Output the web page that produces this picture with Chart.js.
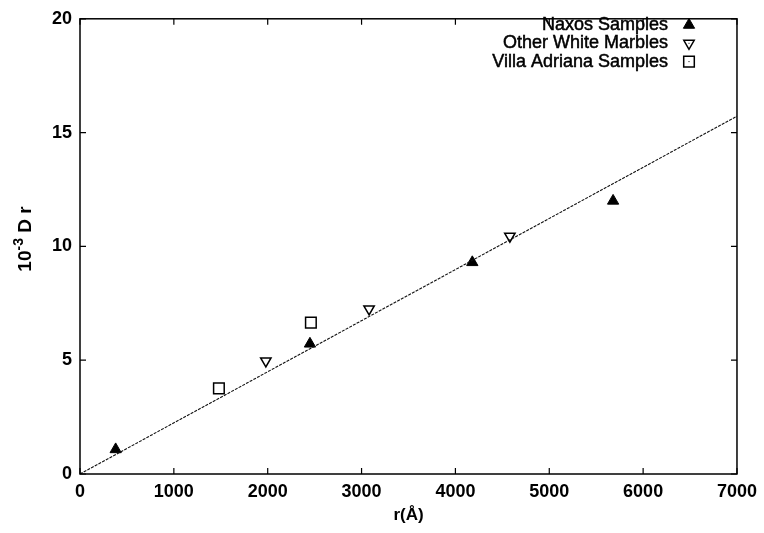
<!DOCTYPE html>
<html>
<head>
<meta charset="utf-8">
<script src="https://cdn.jsdelivr.net/npm/chart.js@4/dist/chart.umd.min.js"></script>
<style>
  html, body { margin: 0; padding: 0; background: #fff; }
  #wrap { width: 764px; height: 533px; }
</style>
</head>
<body>
<div id="wrap"><canvas id="chart" width="764" height="533"></canvas></div>
<script>
// data (r in Å, 10^-3 D r)
const naxosR = [380, 2450, 4180, 5680];
const naxosD = [1.08, 5.72, 9.3, 12.0];
const otherR = [1980, 3080, 4580];
const otherD = [4.97, 7.25, 10.45];
const villaR = [1480, 2460];
const villaD = [3.76, 6.65];
const fitR = [0, 7000];
const fitD = [0, 15.72];
const xTicks = [0, 1000, 2000, 3000, 4000, 5000, 6000, 7000];
const yTicks = [0, 5, 10, 15, 20];

const pts = (xs, ys) => xs.map((x, i) => ({ x, y: ys[i] }));

const FONT = "'Liberation Sans', Arial, Helvetica, sans-serif";

// frame + inward tick marks on all four sides
const framePlugin = {
  id: "frame",
  afterDraw(chart) {
    const { ctx, chartArea: a, scales } = chart;
    ctx.save();
    ctx.strokeStyle = "#000";
    ctx.lineWidth = 1.5;
    ctx.strokeRect(a.left, a.top, a.right - a.left, a.bottom - a.top);
    ctx.lineWidth = 1.2;
    const len = 6;
    xTicks.forEach((v) => {
      const px = scales.x.getPixelForValue(v);
      ctx.beginPath();
      ctx.moveTo(px, a.bottom); ctx.lineTo(px, a.bottom - len);
      ctx.moveTo(px, a.top); ctx.lineTo(px, a.top + len);
      ctx.stroke();
    });
    yTicks.forEach((v) => {
      const py = scales.y.getPixelForValue(v);
      ctx.beginPath();
      ctx.moveTo(a.left, py); ctx.lineTo(a.left + len, py);
      ctx.moveTo(a.right, py); ctx.lineTo(a.right - len, py);
      ctx.stroke();
    });
    ctx.restore();
  }
};

// y title with a real superscript: 10^-3 D r
const yTitlePlugin = {
  id: "yTitle",
  afterDraw(chart) {
    const { ctx } = chart;
    const big = "bold 19px " + FONT;
    const small = "bold 14px " + FONT;
    ctx.save();
    ctx.fillStyle = "#000";
    ctx.font = big;
    const w1 = ctx.measureText("10").width;
    const w3 = ctx.measureText(" D r").width;
    ctx.font = small;
    const w2 = ctx.measureText("-3").width;
    const total = w1 + w2 + w3;
    ctx.translate(31, 239);
    ctx.rotate(-Math.PI / 2);
    ctx.textBaseline = "alphabetic";
    ctx.textAlign = "left";
    let x = -total / 2;
    ctx.font = big;
    ctx.fillText("10", x, 0);
    x += w1;
    ctx.font = small;
    ctx.fillText("-3", x, -8);
    x += w2;
    ctx.font = big;
    ctx.fillText(" D r", x, 0);
    ctx.restore();
  }
};

// legend in the top-right: text right-aligned, marker to the right
const legendPlugin = {
  id: "sideLegend",
  afterDraw(chart) {
    const { ctx } = chart;
    const items = chart.data.datasets.filter((d) => d.inLegend);
    ctx.save();
    ctx.font = "18px " + FONT;
    ctx.textAlign = "right";
    ctx.textBaseline = "middle";
    items.forEach((d, i) => {
      const y = 25 + i * 18.3;
      ctx.fillStyle = "#000";
      ctx.strokeStyle = "#000";
      ctx.lineWidth = 0.5;
      ctx.fillText(d.label, 668, y);
      ctx.strokeText(d.label, 668, y);
      const opts = {
        pointStyle: d.pointStyle,
        rotation: d.rotation || 0,
        radius: d.pointRadius,
        borderWidth: d.borderWidth
      };
      ctx.fillStyle = d.backgroundColor;
      ctx.lineWidth = d.borderWidth;
      Chart.helpers.drawPoint(ctx, opts, 689, y);
      if (d.centerDot) {
        ctx.fillStyle = "#000";
        ctx.fillRect(688.5, y - 0.5, 1, 1);
      }
    });
    ctx.restore();
  }
};

new Chart(document.getElementById("chart"), {
  type: "scatter",
  data: {
    datasets: [
      {
        type: "line",
        label: "fit",
        data: pts(fitR, fitD),
        borderColor: "#111",
        borderWidth: 1.1,
        borderDash: [3, 1.2],
        pointRadius: 0,
        fill: false
      },
      {
        label: "Naxos Samples",
        inLegend: true,
        data: pts(naxosR, naxosD),
        pointStyle: "triangle",
        pointRadius: 6.5,
        borderWidth: 1,
        borderColor: "#000",
        backgroundColor: "#000"
      },
      {
        label: "Other White Marbles",
        inLegend: true,
        centerDot: true,
        data: pts(otherR, otherD),
        pointStyle: "triangle",
        rotation: 180,
        pointRotation: 180,
        pointRadius: 6,
        borderWidth: 1.5,
        borderColor: "#000",
        backgroundColor: "#fff"
      },
      {
        label: "Villa Adriana Samples",
        inLegend: true,
        centerDot: true,
        data: pts(villaR, villaD),
        pointStyle: "rect",
        pointRadius: 7.5,
        borderWidth: 1.5,
        borderColor: "#000",
        backgroundColor: "#fff"
      },
      {
        label: "dots-other",
        data: pts(otherR, otherD),
        pointStyle: "circle",
        pointRadius: 0.7,
        borderWidth: 0,
        backgroundColor: "#000"
      },
      {
        label: "dots-villa",
        data: pts(villaR, villaD),
        pointStyle: "circle",
        pointRadius: 0.7,
        borderWidth: 0,
        backgroundColor: "#000"
      }
    ]
  },
  options: {
    responsive: false,
    animation: false,
    layout: { padding: { top: 11, right: 27, left: 0, bottom: 0 } },
    plugins: {
      legend: { display: false },
      tooltip: { enabled: false }
    },
    scales: {
      x: {
        type: "linear",
        min: 0,
        max: 7000,
        afterBuildTicks: (s) => { s.ticks = xTicks.map((v) => ({ value: v })); },
        afterFit: (s) => { s.height = 59; },
        grid: { display: false, drawTicks: false },
        border: { display: false },
        ticks: {
          padding: 7,
          color: "#000",
          font: { family: FONT, size: 18, weight: "bold" },
          callback: (v) => String(v)
        },
        title: {
          display: true,
          text: "r(Å)",
          color: "#000",
          font: { family: FONT, size: 17, weight: "bold" },
          padding: { top: 0, bottom: 7 }
        }
      },
      y: {
        type: "linear",
        min: 0,
        max: 20,
        afterBuildTicks: (s) => { s.ticks = yTicks.map((v) => ({ value: v })); },
        afterFit: (s) => { s.width = 80; },
        grid: { display: false, drawTicks: false },
        border: { display: false },
        ticks: {
          padding: 8,
          color: "#000",
          font: { family: FONT, size: 18, weight: "bold" },
          callback: (v) => String(v)
        },
        title: { display: false }
      }
    }
  },
  plugins: [framePlugin, yTitlePlugin, legendPlugin]
});
</script>
</body>
</html>
